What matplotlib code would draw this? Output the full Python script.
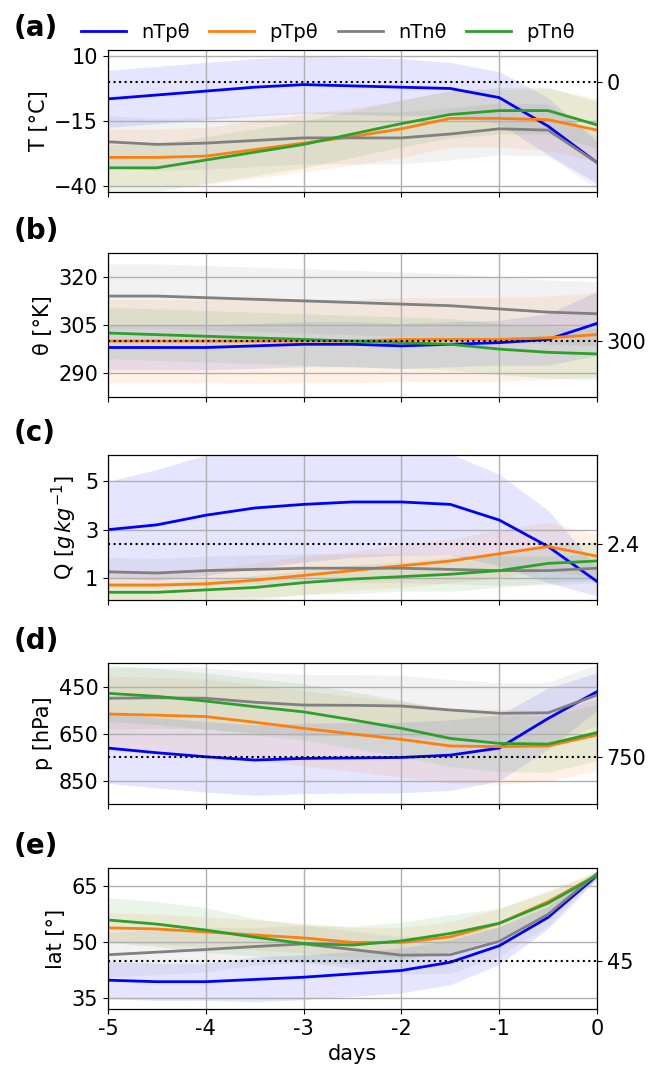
import matplotlib
matplotlib.use('Agg')
import matplotlib.pyplot as plt
import numpy as np

days = np.arange(-5, 0.01, 0.5)
names = ['nTpθ', 'pTpθ', 'nTnθ', 'pTnθ']
colors = ['blue', '#ff7f0e', 'grey', '#2ca02c']

# temperature
T = [[-6.5, -5, -3.5, -2, -1, -1.5, -2, -2.5, -6, -17, -31],
     [-29, -29, -28.5, -26, -23.5, -21, -18, -14, -14, -14.5, -18.5],
     [-23, -24, -23.5, -22.5, -21.5, -21.5, -21.5, -20, -18, -18.5, -31],
     [-33, -33, -30, -27, -24, -20, -16, -12.5, -11, -11, -16.5]]
T_sd = [[11, 11, 11, 11, 11, 11, 11, 10, 10, 11, 8],
        [11, 11, 11, 11, 11, 11, 11, 11, 11, 12, 12],
        [10, 10, 10, 10, 10, 10, 10, 10, 10, 10, 10],
        [9, 9, 9, 9, 9, 9, 9, 9, 9, 9, 9]]
# potential temperature
TH = [[298, 298, 298, 298.5, 299, 299, 298.5, 299, 299.5, 300.5, 305.5],
      [300, 300, 300, 300, 300, 300, 300.5, 300.5, 300.5, 301, 302],
      [314, 314, 313.5, 313, 312.5, 312, 311.5, 311, 310, 309, 308.5],
      [302.5, 302, 301.5, 301, 300.5, 300, 299.5, 299, 297.5, 296.5, 296]]
TH_sd = [[7, 7, 7, 7, 7, 7, 7, 7, 7, 8, 10],
         [13, 13, 13, 13, 13, 13, 13, 13, 13, 13, 13],
         [10, 10, 10, 10, 10, 10, 10, 10, 10, 10, 10],
         [8, 8, 8, 8, 8, 8, 8, 8, 8, 8, 8]]
# specific humidity
Q = [[3.0, 3.2, 3.6, 3.9, 4.05, 4.15, 4.15, 4.05, 3.4, 2.3, 0.85],
     [0.7, 0.7, 0.75, 0.9, 1.1, 1.3, 1.5, 1.7, 2.0, 2.3, 1.9],
     [1.25, 1.2, 1.3, 1.35, 1.4, 1.4, 1.4, 1.35, 1.3, 1.3, 1.4],
     [0.4, 0.4, 0.5, 0.6, 0.8, 0.95, 1.05, 1.15, 1.3, 1.6, 1.7]]
Q_sd = [[2.0, 2.3, 2.5, 2.5, 2.4, 2.3, 2.2, 2.1, 1.9, 1.5, 0.6],
        [0.6, 0.6, 0.6, 0.7, 0.8, 0.8, 0.9, 0.9, 1.0, 1.0, 0.9],
        [0.6, 0.6, 0.6, 0.6, 0.6, 0.6, 0.6, 0.6, 0.6, 0.6, 0.6],
        [0.4, 0.4, 0.4, 0.5, 0.5, 0.6, 0.6, 0.7, 0.7, 0.8, 0.8]]
# pressure
P = [[710, 730, 747, 761, 754, 752, 750, 740, 710, 584, 470],
     [565, 570, 576, 600, 626, 650, 673, 701, 704, 701, 654],
     [498, 496, 498, 515, 527, 528, 531, 548, 562, 560, 484],
     [477, 490, 510, 534, 556, 590, 626, 669, 690, 693, 644]]
P_sd = [[150, 150, 150, 150, 150, 150, 150, 150, 140, 130, 80],
        [160, 160, 160, 160, 160, 160, 160, 160, 160, 150, 150],
        [130, 130, 130, 130, 130, 130, 130, 130, 130, 130, 130],
        [120, 120, 120, 120, 120, 120, 120, 120, 120, 120, 120]]
# latitude
LAT = [[39.8, 39.4, 39.4, 40, 40.6, 41.5, 42.4, 44.6, 49, 56.6, 67.8],
       [53.8, 53.5, 52.7, 51.9, 51.1, 49.9, 49.9, 51.4, 55, 60.8, 67.9],
       [46.6, 47.3, 48, 48.8, 49.5, 48, 46.5, 46.6, 50.2, 57.4, 68.3],
       [55.9, 54.8, 53.2, 51.3, 49.6, 49.2, 50.3, 52.3, 55, 60.4, 67.8]]
LAT_sd = [[5, 5, 5, 6, 6, 6, 6, 6, 5, 3, 1],
          [4, 4, 4, 4, 4, 4, 4, 4, 4, 3, 1],
          [6, 6, 6, 5, 5, 5, 5, 5, 4, 3, 1],
          [6, 6, 6, 5, 5, 5, 5, 5, 4, 3, 1]]

panels = [
    ('(a)', 'T [°C]', T, T_sd, (-42.3, 12.3), [10, -15, -40], 0, '0'),
    ('(b)', 'θ [°K]', TH, TH_sd, (282.6, 327.4), [320, 305, 290], 300, '300'),
    ('(c)', r'Q [$g\,kg^{-1}$]', Q, Q_sd, (0.08, 6.1), [5, 3, 1], 2.4, '2.4'),
    ('(d)', 'p [hPa]', P, P_sd, (948, 348), [450, 650, 850], 750, '750'),
    ('(e)', 'lat [°]', LAT, LAT_sd, (32.1, 69.8), [65, 50, 35], 45, '45'),
]

plt.rcParams['font.size'] = 15
fig = plt.figure(figsize=(6.56, 10.81), dpi=100)
tops = [50, 253, 455, 663, 868]
bottoms = [192, 397, 600, 804, 1009]
W, H = 656, 1081
for i, (lab, ylab, data, sd, ylim, ticks, ref, reftxt) in enumerate(panels):
    ax = fig.add_axes([108 / W, 1 - bottoms[i] / H, (597 - 108) / W,
                       (bottoms[i] - tops[i]) / H])
    for j in range(4):
        m = np.array(data[j])
        s = np.array(sd[j])
        ax.fill_between(days, m - s, m + s, color=colors[j], alpha=0.1, lw=0)
    for j in range(4):
        ax.plot(days, data[j], color=colors[j], lw=2, label=names[j])
    ax.axhline(ref, color='k', ls=':', lw=1.5)
    ax.set_xlim(-5, 0)
    ax.set_ylim(*ylim)
    ax.set_yticks(ticks)
    ax.set_xticks(range(-5, 1))
    ax.grid(True, color='#b0b0b0', lw=1)
    ax.set_ylabel(ylab)
    ax2 = ax.twinx()
    ax2.set_ylim(*ylim)
    ax2.set_yticks([ref])
    ax2.set_yticklabels([reftxt])
    fig.text(14 / W, 1 - (tops[i] - 8) / H, lab, fontsize=20,
             fontweight='bold', va='bottom', ha='left')
    if i < 4:
        ax.set_xticklabels([])
    else:
        ax.set_xticklabels(['-5', '-4', '-3', '-2', '-1', '0'])
        ax.set_xlabel('days')
    if i == 0:
        ax.legend(loc='lower center', bbox_to_anchor=(0.45, 1.0), ncol=4,
                  frameon=False, fontsize=14, handlelength=2.3,
                  columnspacing=1.0, borderaxespad=0.0)

fig.savefig('out.png', dpi=100)
